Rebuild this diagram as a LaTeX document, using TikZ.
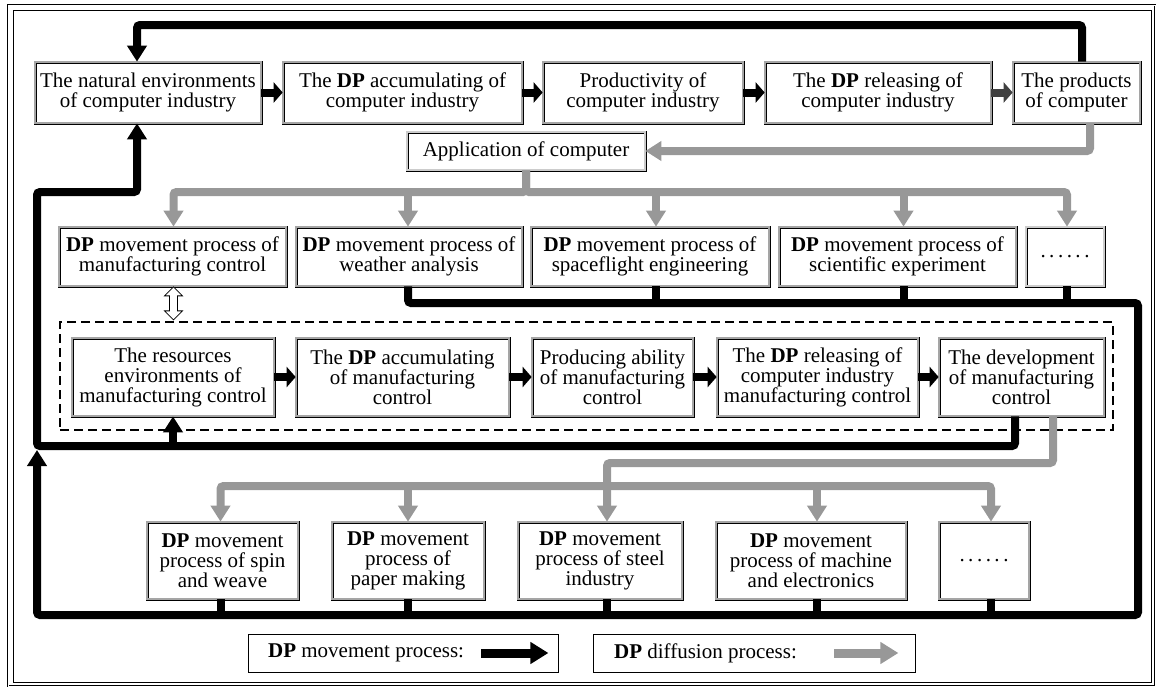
\documentclass[tikz,border=0pt]{standalone}
\usepackage{fontspec}
\setmainfont{Liberation Serif}
\usetikzlibrary{arrows.meta}

\definecolor{diffgray}{RGB}{152,152,152}
\definecolor{edgegray}{RGB}{165,165,165}

\tikzset{
    box/.style={draw=black, double=edgegray, double distance=1.6pt, line width=0.7pt, fill=white, align=center, inner sep=1pt},
    move/.style={line width=8pt, draw=black, rounded corners=3pt},
    diff/.style={line width=8pt, draw=diffgray, rounded corners=3pt},
    movearrow/.style={move, -{Triangle[length=16pt, width=19pt]}},
    diffarrow/.style={diff, -{Triangle[length=16pt, width=19pt]}},
    rowarrow/.style={line width=8pt, draw=black, -{Triangle[length=9pt, width=20pt]}},
    zonebox/.style={draw=black, line width=1.8pt, dash pattern=on 9pt off 5pt},
    legbox/.style={draw=black, line width=0.8pt},
}

\begin{document}
\begin{tikzpicture}[x=1pt, y=-1pt, font=\fontsize{21}{20}\selectfont]
    \useasboundingbox (0,0) rectangle (1160,688);

    % Frame
    \draw [double, double distance=1pt, line width=0.6pt] (8,5) rectangle (1155,686);
    \draw [line width=0.6pt] (13,10) rectangle (1151,682);

    % Computer industry
    \node [box, minimum width=226, minimum height=61] (env) at (148,92.5) {The natural environments\\of computer industry};
    \node [box, minimum width=239, minimum height=61] (acc) at (402.5,92.5) {The \textbf{DP} accumulating of\\computer industry};
    \node [box, minimum width=200, minimum height=61] (prod) at (643,92.5) {Productivity of\\computer industry};
    \node [box, minimum width=226, minimum height=61] (rel) at (878,92.5) {The \textbf{DP} releasing of\\computer industry};
    \node [box, minimum width=127, minimum height=61] (products) at (1076.5,92.5) {The products\\of computer};
    \node [box, double=white!60!gray, minimum width=238, minimum height=38] (app) at (526,151) {Application of computer};

    % Applications
    \node [box, minimum width=227, minimum height=59] (m1) at (172.5,256.5) {\textbf{DP} movement process of\\manufacturing control};
    \node [box, minimum width=226, minimum height=59] (m2) at (409,256.5) {\textbf{DP} movement process of\\weather analysis};
    \node [box, minimum width=238, minimum height=59] (m3) at (650,256.5) {\textbf{DP} movement process of\\spaceflight engineering};
    \node [box, minimum width=237, minimum height=59] (m4) at (897.5,256.5) {\textbf{DP} movement process of\\scientific experiment};
    \node [box, double=white!60!gray, minimum width=78, minimum height=59] (m5) at (1065,256.5) {.\,.\,.\,.\,.\,.};

    % Manufacturing control
    \node [zonebox, minimum width=1053, minimum height=108] (zone) at (586.5,376) {};
    \node [box, minimum width=202, minimum height=78] (res) at (173,377) {The resources\\environments of\\manufacturing control};
    \node [box, minimum width=213, minimum height=78] (acc2) at (402.5,377) {The \textbf{DP} accumulating\\of manufacturing\\control};
    \node [box, minimum width=161, minimum height=78] (prod2) at (612.5,377) {Producing ability\\of manufacturing\\control};
    \node [box, minimum width=201, minimum height=78] (rel2) at (817.5,377) {The \textbf{DP} releasing of\\computer industry\\manufacturing control};
    \node [box, minimum width=165, minimum height=78] (dev) at (1021.5,377) {The development\\of manufacturing\\control};

    % Industries
    \node [box, minimum width=151, minimum height=77] (b1) at (222.5,560.5) {\textbf{DP} movement\\process of spin\\and weave};
    \node [box, minimum width=152, minimum height=77] (b2) at (408,560.5) {\textbf{DP} movement\\process of\\paper making};
    \node [box, minimum width=164, minimum height=77] (b3) at (600,560.5) {\textbf{DP} movement\\process of steel\\industry};
    \node [box, minimum width=190, minimum height=77] (b4) at (811,560.5) {\textbf{DP} movement\\process of machine\\and electronics};
    \node [box, minimum width=90, minimum height=77] (b5) at (984,560.5) {.\,.\,.\,.\,.\,.};

    % Legend
    \node [legbox, minimum width=310, minimum height=38] (leg1) at (403,653) {};
    \node [anchor=west] (leg1txt) at ([xshift=17]leg1.west) {\textbf{DP} movement process:};
    \node [legbox, minimum width=322, minimum height=38] (leg2) at (754,653) {};
    \node [anchor=west] (leg2txt) at ([xshift=18]leg2.west) {\textbf{DP} diffusion process:};

    % Ports
    \foreach \n/\s in {m1/1, m2/-1, m3/6, m4/6, m5/2, b1/-2, b2/0, b3/7, b4/6, b5/7} {
        \path ([xshift=\s]\n.north) coordinate (\n-in);
        \path ([xshift=\s]\n.south) coordinate (\n-out);
    }
    \coordinate (tl) at (137,25);
    \coordinate (lt) at (137,192);
    \coordinate (gtop) at (0,192);
    \coordinate (rt) at (1138,303);
    \coordinate (lm) at (37,446);
    \coordinate (lj) at (37,450);
    \coordinate (gmid) at (0,463);
    \coordinate (gbot) at (0,486);
    \coordinate (rb) at (1138,615);
    \coordinate (lb) at (37,615);

    % Exchange between the two levels
    \draw [line width=0.8pt, fill=white, shift={(m1-out)}, yshift=-17pt]
        (0,-16.5) -- (9,-7.5) -- (4,-7.5) -- (4,7.5) -- (9,7.5) -- (0,16.5)
        -- (-9,7.5) -- (-4,7.5) -- (-4,-7.5) -- (-9,-7.5) -- cycle;

    % DP movement
    \foreach \a/\b in {env/acc, acc/prod, prod/rel, res/acc2, acc2/prod2, prod2/rel2, rel2/dev}
        \draw [rowarrow] (\a) -- (\b);
    \draw [rowarrow, draw=black!75] (rel) -- (products);
    \draw [movearrow] ([xshift=5.5]products.north) |- (tl) -- (tl |- env.north);
    \draw [movearrow] (m2-out) |- (rt) -- (rb) -- (lb) -- (lj);
    \foreach \n in {m3, m4, m5}
        \draw [move] (\n-out) -- (\n-out |- rt);
    \foreach \n in {b1, b2, b3, b4, b5}
        \draw [move] (\n-out) -- (\n-out |- lb);
    \draw [movearrow] ([xshift=-6.5]dev.south) |- (lm) |- (lt) -- (lt |- env.south);
    \draw [movearrow] (res.south |- lm) -- (res.south);

    % DP diffusion
    \draw [diffarrow] ([xshift=13.5]products.south) |- (app.east);
    \draw [diffarrow] (app.south) -- (app.south |- gtop) -| (m1-in);
    \draw [diffarrow] (app.south) -- (app.south |- gtop) -| (m5-in);
    \foreach \n in {m2, m3, m4}
        \draw [diffarrow] (\n-in |- gtop) -- (\n-in);
    \draw [diffarrow] ([xshift=31.5]dev.south) |- (b3-in |- gmid) -- (b3-in);
    \draw [diffarrow] (b3-in |- gbot) -| (b1-in);
    \draw [diffarrow] (b3-in |- gbot) -| (b5-in);
    \foreach \n in {b2, b4}
        \draw [diffarrow] (\n-in |- gbot) -- (\n-in);

    % Legend arrows
    \draw [movearrow, line width=9pt, -{Triangle[length=18pt, width=21pt]}] ([xshift=-77]leg1.east) -- ([xshift=-10]leg1.east);
    \draw [diffarrow, line width=9pt, -{Triangle[length=18pt, width=21pt]}] ([xshift=-81]leg2.east) -- ([xshift=-17]leg2.east);
\end{tikzpicture}
\end{document}
